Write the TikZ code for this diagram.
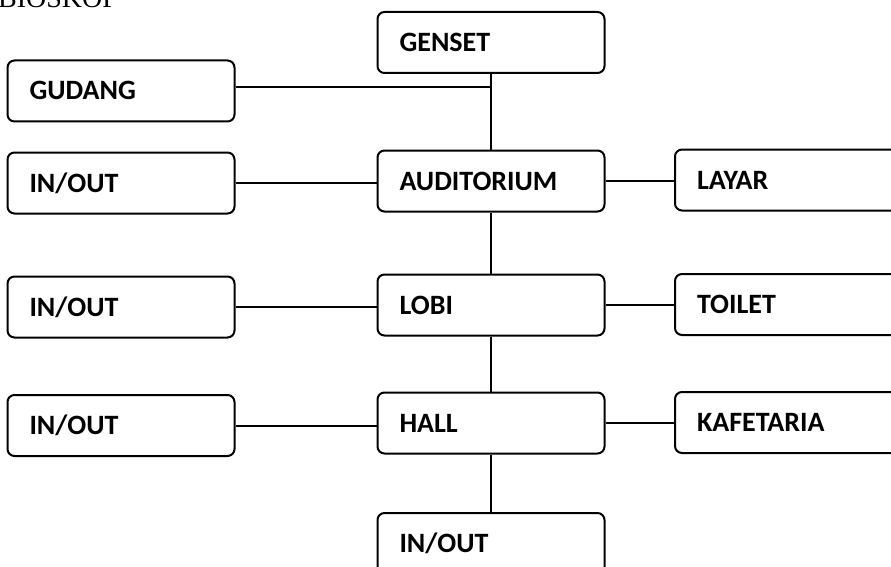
\documentclass[tikz,border=0pt]{standalone}
\usepackage{fontspec}
\setmainfont{Carlito}
\newfontfamily\titlefont{Liberation Serif}
\begin{document}
\begin{tikzpicture}[x=1pt,y=-1pt,
  room/.style={draw=black, line width=2pt, rounded corners=7pt, fill=white,
    minimum height=61pt, inner ysep=0pt, inner xsep=22pt,
    text width=183pt, align=left,
    font=\fontsize{28}{30}\selectfont\bfseries,
    text height=18pt, text depth=0pt},
  link/.style={draw=black, line width=2pt}]
  \useasboundingbox (0,0) rectangle (891,567);
  \clip (0,0) rectangle (891,567);
  \fill[white] (0,0) rectangle (891,567);

  % heading
  \node[anchor=base west, inner sep=0pt, font=\titlefont\fontsize{28}{30}\selectfont] (title) at (-2,8) {BIOSKOP};

  % central column
  \node[room] (genset) at (491,42.5) {GENSET};
  \node[room] (aud)    at (491,181)  {AUDITORIUM};
  \node[room] (lobi)   at (491,305)  {LOBI};
  \node[room] (hall)   at (491,423)  {HALL};
  \node[room] (io4)    at (491,543.5){IN/OUT};

  % left column
  \node[room] (gudang) at (121,91)  {GUDANG};
  \node[room] (io1)    at (121,183) {IN/OUT};
  \node[room] (io2)    at (121,307) {IN/OUT};
  \node[room] (io3)    at (121,425.5) {IN/OUT};

  % right column
  \node[room] (layar)  at (788.5,180) {LAYAR};
  \node[room] (toilet) at (788.5,304.5) {TOILET};
  \node[room] (kaf)    at (788.5,422.5) {KAFETARIA};

  % vertical spine
  \draw[link] (genset.south) -- (aud.north);
  \draw[link] (aud.south) -- (lobi.north);
  \draw[link] (lobi.south) -- (hall.north);
  \draw[link] (hall.south) -- (io4.north);

  % gudang joins the spine between genset and auditorium
  \coordinate (gj) at (491,87);
  \draw[link] (gudang.east |- gj) -- (gj);

  % side branches
  \draw[link] (io1.east) -- (io1.east -| aud.west);
  \draw[link] (aud.east) -- (aud.east -| layar.west);
  \draw[link] (io2.east) -- (io2.east -| lobi.west);
  \draw[link] (lobi.east) -- (lobi.east -| toilet.west);
  \draw[link] (io3.east) -- (io3.east -| hall.west);
  \draw[link] (hall.east) -- (hall.east -| kaf.west);
\end{tikzpicture}
\end{document}
